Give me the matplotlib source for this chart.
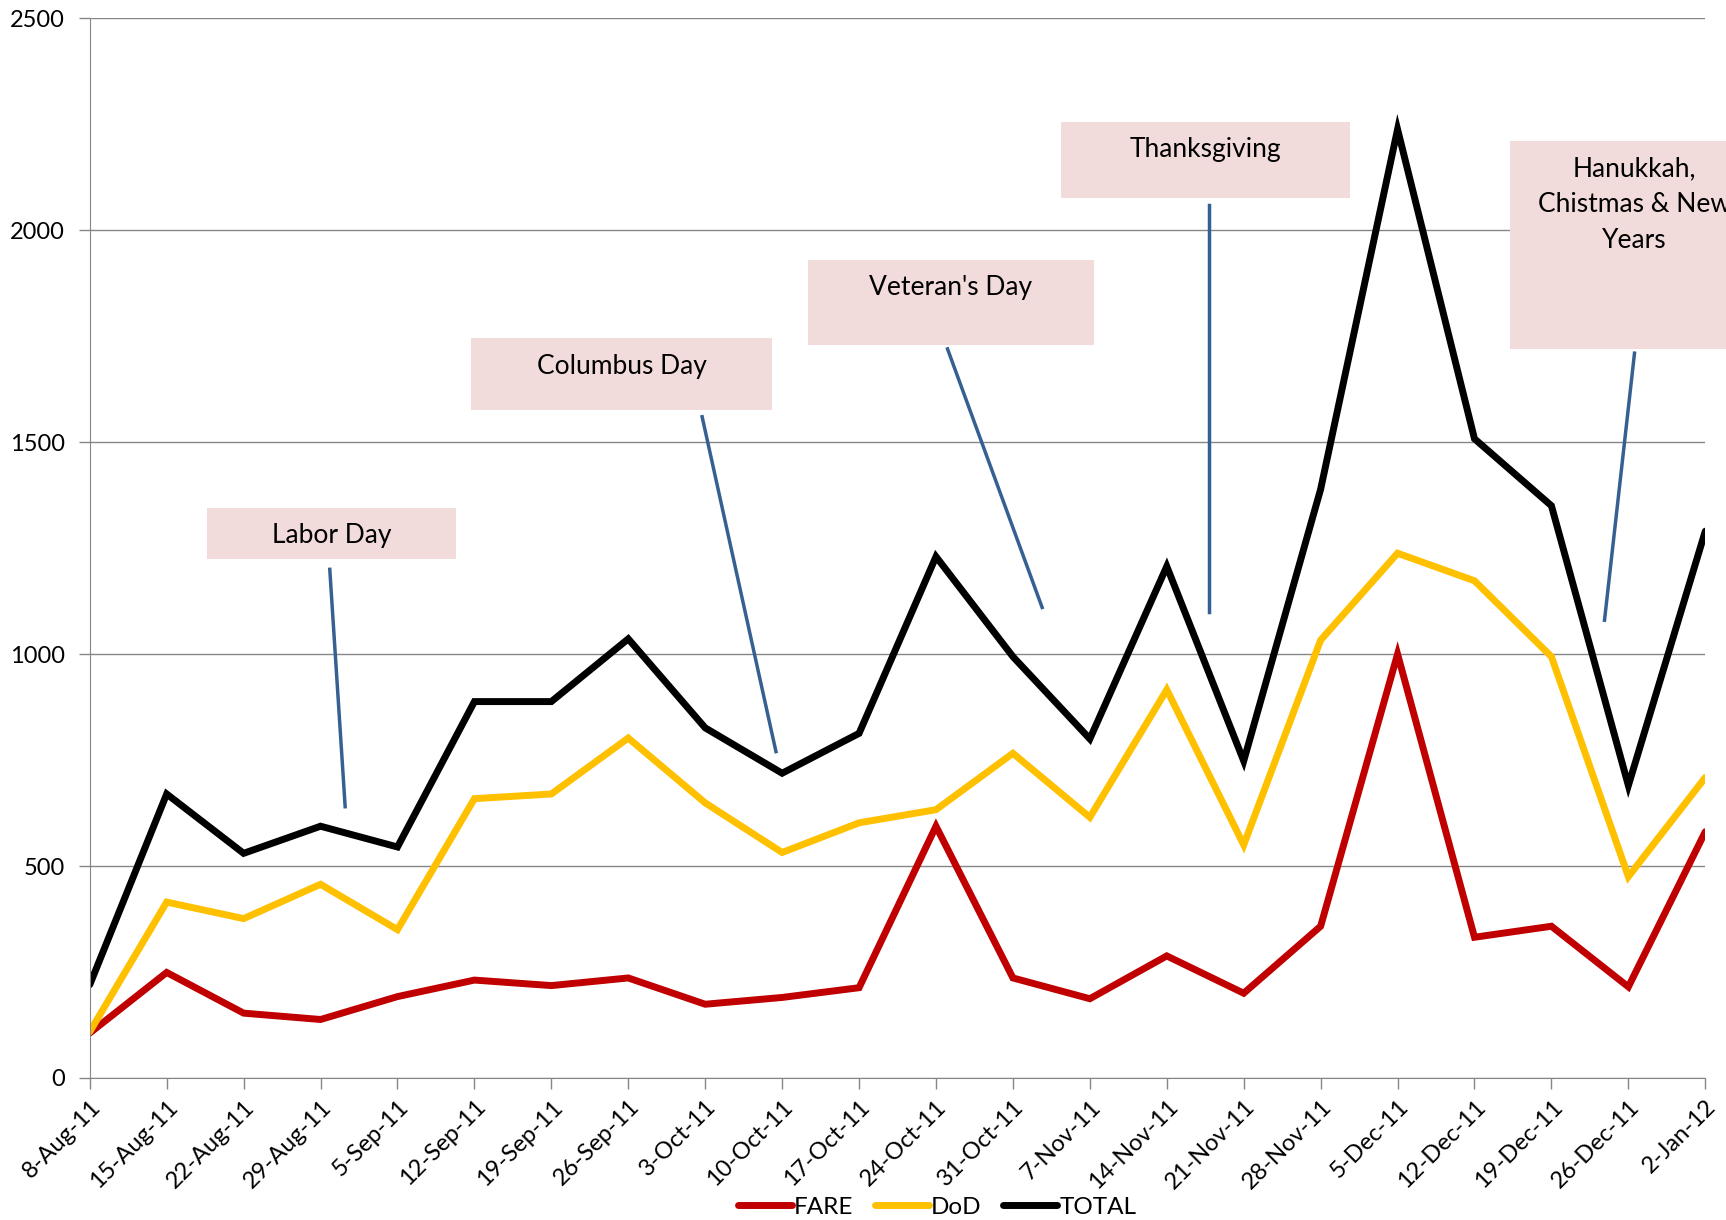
import numpy as np
import matplotlib
matplotlib.use("Agg")
import matplotlib.pyplot as plt
from matplotlib.patches import Rectangle

plt.rcParams['font.family'] = ['Lato', 'DejaVu Sans']

# # DATA

weeks = ['8-Aug-11', '15-Aug-11', '22-Aug-11', '29-Aug-11', '5-Sep-11', '12-Sep-11',
         '19-Sep-11', '26-Sep-11', '3-Oct-11', '10-Oct-11', '17-Oct-11', '24-Oct-11',
         '31-Oct-11', '7-Nov-11', '14-Nov-11', '21-Nov-11', '28-Nov-11', '5-Dec-11',
         '12-Dec-11', '19-Dec-11', '26-Dec-11', '2-Jan-12']

fare = [106, 249, 153, 138, 192, 231, 218, 236, 174, 190, 213, 594,
        236, 187, 288, 200, 358, 1000, 332, 358, 215, 581]
dod = [109, 415, 376, 457, 350, 659, 670, 802, 649, 532, 602, 633,
       766, 615, 916, 550, 1033, 1238, 1173, 994, 475, 709]
total = [220, 670, 530, 594, 545, 888, 888, 1036, 826, 719, 813, 1230,
         994, 800, 1207, 748, 1389, 2238, 1508, 1350, 690, 1290]

y_ticks = [0, 500, 1000, 1500, 2000, 2500]

# holiday callouts: label, box (x0, y0, x1, y1) in data units, line start, line end
holidays = [
    ("Labor Day", (1.53, 1225, 4.76, 1345), (3.12, 1200), (3.32, 640)),
    ("Columbus Day", (4.96, 1575, 8.87, 1745), (7.96, 1560), (8.92, 770)),
    ("Veteran's Day", (9.33, 1730, 13.05, 1930), (11.15, 1720), (12.38, 1110)),
    ("Thanksgiving", (12.63, 2075, 16.38, 2255), (14.55, 2060), (14.55, 1100)),
    ("Hanukkah,\nChistmas & New\nYears", (18.46, 1720, 21.7, 2210), (20.08, 1710), (19.69, 1080)),
]

# # PLOT

fig = plt.figure(figsize=(17.26, 12.20), dpi=100)
ax = fig.add_axes([0.052, 0.1164, 0.936, 0.8686])

x = np.arange(len(weeks))
ax.plot(x, fare, color='#C00000', lw=5, label='FARE', solid_capstyle='round', solid_joinstyle='miter')
ax.plot(x, dod, color='#FFC000', lw=5, label='DoD', solid_capstyle='round', solid_joinstyle='miter')
ax.plot(x, total, color='#000000', lw=5, label='TOTAL', solid_capstyle='round', solid_joinstyle='miter')

ax.set_xlim(0, len(weeks) - 1)
ax.set_ylim(0, 2500)
ax.set_yticks(y_ticks)
ax.set_xticks(x)
ax.set_xticklabels(weeks, rotation=45, ha='right', rotation_mode='anchor')
ax.yaxis.grid(True, color='#868686', lw=1)
ax.set_axisbelow(True)
for s in ['top', 'right']:
    ax.spines[s].set_visible(False)
for s in ['left', 'bottom']:
    ax.spines[s].set_color('#868686')
ax.tick_params(axis='both', colors='#868686', labelcolor='black', labelsize=17, length=8, width=1)
ax.tick_params(axis='y', pad=10)
ax.tick_params(axis='x', pad=5)

for label, (x0, y0, x1, y1), (lx0, ly0), (lx1, ly1) in holidays:
    ax.add_patch(Rectangle((x0, y0), x1 - x0, y1 - y0, facecolor='#F2DCDB',
                           edgecolor='none', clip_on=False, zorder=5))
    ax.text((x0 + x1) / 2, y1 - 36, label, ha='center', va='top', fontsize=19,
            linespacing=1.55, zorder=6, clip_on=False)
    ax.plot([lx0, lx1], [ly0, ly1], color='#376092', lw=2.5, zorder=4)

fig.legend(loc='lower center', bbox_to_anchor=(0.543, -0.016), ncol=3, frameon=False,
           fontsize=17.5, handlelength=2.2, handletextpad=0.1, columnspacing=0.9)

plt.savefig('out.png', dpi=100)
plt.close()
